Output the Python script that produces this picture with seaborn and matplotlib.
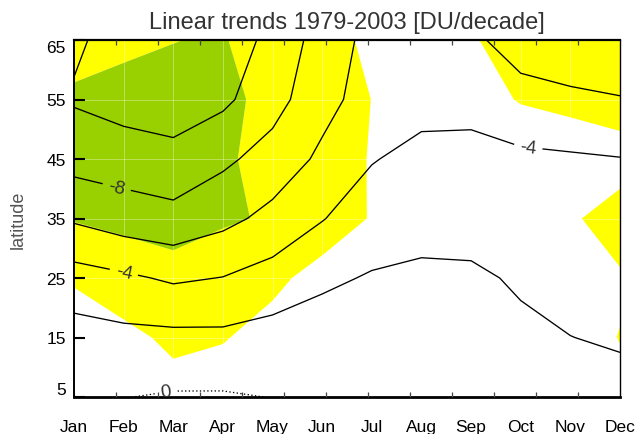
import numpy as np
import matplotlib
matplotlib.use("Agg")
import matplotlib.pyplot as plt
import seaborn as sns

# ---------------- data ----------------
months = ["Jan", "Feb", "Mar", "Apr", "May", "Jun",
          "Jul", "Aug", "Sep", "Oct", "Nov", "Dec"]
latitudes = [5, 15, 25, 35, 45, 55, 65]

# linear ozone trend [DU/decade], one row per latitude, Jan..Dec
trend_lat05 = [-0.60, -0.04, 0.17, 0.18, -0.04, -0.30, -0.50, -0.50, -0.60, -0.90, -1.20, -1.40]
trend_lat15 = [-1.19, -1.47, -1.53, -1.58, -1.25, -1.21, -1.00, -0.90, -1.10, -1.705, -1.98, -2.20]
trend_lat25 = [-3.17, -3.67, -4.27, -3.95, -3.23, -2.29, -1.87, -1.69, -1.755, -2.18, -2.60, -2.80]
trend_lat35 = [-6.25, -7.00, -7.42, -6.55, -5.43, -4.09, -2.90, -2.60, -2.60, -3.00, -3.20, -3.40]
trend_lat45 = [-8.75, -9.00, -9.29, -8.39, -7.21, -5.61, -4.12, -3.37, -3.40, -3.63, -3.77, -3.94]
trend_lat55 = [-10.19, -10.82, -11.26, -10.40, -8.75, -6.67, -5.11, -4.74, -4.62, -5.40, -5.70, -5.90]
trend_lat65 = [-9.69, -10.80, -11.30, -10.64, -9.70, -7.00, -5.48, -5.00, -5.66, -6.76, -7.06, -7.50]

# significance of the trend (t value), one row per latitude, Jan..Dec
tval_lat05 = [0.50, 1.00, 1.64, 1.19, 0.90, 0.60, 0.50, 0.40, 0.50, 0.80, 1.20, 1.82]
tval_lat15 = [0.95, 1.74, 2.20, 2.10, 1.43, 1.00, 0.80, 0.60, 0.70, 1.00, 1.73, 2.02]
tval_lat25 = [2.20, 2.60, 2.80, 2.70, 2.35, 1.45, 1.20, 0.90, 0.90, 1.10, 1.60, 1.91]
tval_lat35 = [3.05, 3.16, 3.23, 3.06, 2.95, 2.90, 1.90, 1.30, 1.10, 1.20, 1.88, 2.40]
tval_lat45 = [3.50, 3.60, 3.80, 3.30, 2.30, 2.50, 1.94, 1.40, 1.30, 1.43, 1.30, 1.60]
tval_lat55 = [3.20, 3.40, 3.30, 3.30, 2.66, 2.50, 1.99, 1.40, 1.69, 2.05, 2.30, 2.45]
tval_lat65 = [2.50, 2.75, 2.98, 3.08, 2.35, 2.40, 1.79, 1.50, 1.88, 2.60, 2.70, 2.70]

plain_levels = [-10, -6, -2]
labelled_levels = {-8: [(0.87, 40.6)],
                   -4: [(1.0, 25.8), (9.15, 47.0)],
                   0: [(1.85, 5.8)]}
signif_levels = [2, 3, 100]
signif_colors = ["#ffff00", "#99d100"]

title = "Linear trends 1979-2003 [DU/decade]"
ylabel = "latitude"

# ---------------- style ----------------
sns.set_theme(style="white")
plt.rcParams["font.family"] = ["Liberation Sans", "DejaVu Sans"]

trend = np.array([trend_lat05, trend_lat15, trend_lat25, trend_lat35,
                  trend_lat45, trend_lat55, trend_lat65])
tval = np.array([tval_lat05, tval_lat15, tval_lat25, tval_lat35,
                 tval_lat45, tval_lat55, tval_lat65])
x = np.arange(len(months))
y = np.array(latitudes)

fig = plt.figure(figsize=(6.38, 4.35), dpi=100)
ax = fig.add_axes([74 / 638, 1 - 398 / 435, 546 / 638, 357 / 435])
ax.set_axisbelow(False)

ax.contourf(x, y, tval, levels=signif_levels, colors=signif_colors,
            antialiased=True, zorder=0.6)

# faint cell seams (visible only over the shading)
for xi in x[1:-1]:
    ax.axvline(xi, color="white", lw=0.7, alpha=0.35, zorder=0.8)
for yi in y[1:-1]:
    ax.axhline(yi, color="white", lw=0.7, alpha=0.35, zorder=0.8)

ax.contour(x, y, trend, levels=plain_levels, colors="black",
           linewidths=0.95, linestyles="solid", zorder=3)
for lv, spots in labelled_levels.items():
    style = "solid" if lv < 0 else (0, (1, 1.8))
    cs = ax.contour(x, y, trend, levels=[lv], colors="black",
                    linewidths=0.95, linestyles=[style], zorder=3)
    ax.clabel(cs, fmt="%d", fontsize=13.5, colors="#333333", inline=True,
              inline_spacing=6, manual=spots)

ax.set_xlim(x[0], x[-1])
ax.set_ylim(y[0], y[-1])

ax.set_xticks(x)
ax.set_xticklabels(months)
ax.set_xticks(np.linspace(x[0], x[-1], 14), minor=True)
ax.tick_params(axis="x", which="major", length=0, pad=16, labelsize=12.5,
               labelcolor="black")
ax.tick_params(axis="x", which="minor", direction="in", length=3.5, width=0.9,
               color="#444444", top=True, bottom=True)

ax.set_yticks(y)
ax.set_yticklabels([str(v) for v in latitudes])
ax.tick_params(axis="y", which="major", direction="in", length=8, width=1.5,
               color="black", pad=6, labelsize=12.5, labelcolor="black",
               left=True, right=False)
ylabs = ax.get_yticklabels()
ylabs[0].set_va("bottom")
ylabs[-1].set_va("top")

for side, lw in [("left", 1.4), ("bottom", 2.0), ("top", 1.6), ("right", 1.0)]:
    ax.spines[side].set_color("black")
    ax.spines[side].set_linewidth(lw)
    ax.spines[side].set_visible(True)

ax.set_title(title, fontsize=17, color="#333333", pad=9)
ax.set_ylabel(ylabel, fontsize=13, color="#555555", labelpad=14)

fig.savefig("out.png", dpi=100)
